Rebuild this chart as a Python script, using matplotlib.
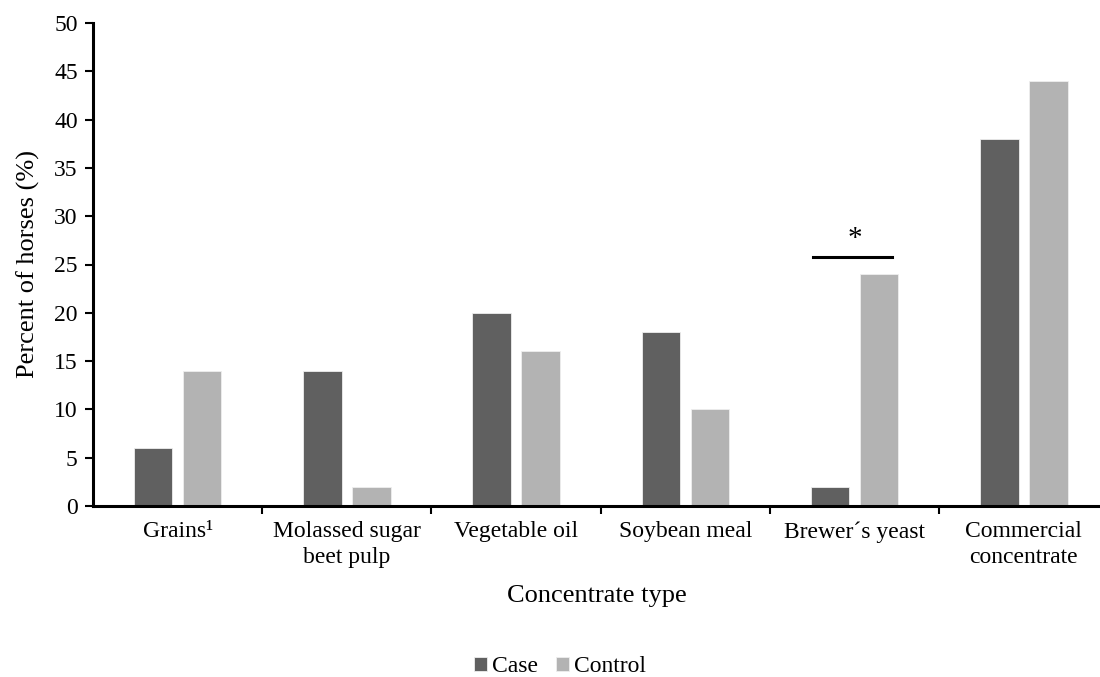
import matplotlib
matplotlib.use("Agg")
import matplotlib.pyplot as plt
import numpy as np

categories = ["Grains\u00b9", "Molassed sugar\nbeet pulp", "Vegetable oil",
              "Soybean meal", "Brewer\u00b4s yeast", "Commercial\nconcentrate"]
case_vals = [6, 14, 20, 18, 2, 38]
control_vals = [14, 2, 16, 10, 24, 44]
series_names = ["Case", "Control"]
yticks = list(range(0, 51, 5))

plt.rcParams['font.family'] = ['Liberation Serif', 'DejaVu Serif']
fs = 17
fs_lab = 19

W, H = 1100, 677
fig = plt.figure(figsize=(W/100, H/100), dpi=100)
x0, y_top, y_bot = 93, 23, 506
ax = fig.add_axes([x0/W, 1-y_bot/H, 1-x0/W, (y_bot-y_top)/H])

x = np.arange(len(categories))
w = 0.228
off = 0.145
ax.bar(x - off, case_vals, w, color="#606060", edgecolor="#eeeeee", linewidth=0.6, label=series_names[0], zorder=2)
ax.bar(x + off, control_vals, w, color="#b3b3b3", edgecolor="#eeeeee", linewidth=0.6, label=series_names[1], zorder=2)

ax.set_xlim(-0.5, 5.45)
ax.set_ylim(0, 50)
ax.set_yticks(yticks)
ax.set_yticklabels([str(v) for v in yticks], fontsize=fs)
ax.set_xticks(np.arange(0.5, 5.0, 1.0))
ax.set_xticklabels([])
ax.set_xticks(x, minor=True)
ax.set_xticklabels(categories, minor=True, fontsize=fs, linespacing=1.28)
ax.tick_params(axis='x', which='minor', length=0, pad=11)
ax.tick_params(axis='x', which='major', length=6, width=1.5, direction='out')
ax.tick_params(axis='y', length=6, width=1.5, direction='out', pad=5)

for s in ['top', 'right']:
    ax.spines[s].set_visible(False)
for s in ['left', 'bottom']:
    ax.spines[s].set_linewidth(2.2)
    ax.spines[s].set_color('black')

ax.set_ylabel("Percent of horses (%)", fontsize=fs_lab)
ax.yaxis.set_label_coords((40 - x0) / (W - x0), 0.5)
ax.set_xlabel("Concentrate type", fontsize=fs_lab)
ax.xaxis.set_label_coords(0.5, -(585 - y_bot) / (y_bot - y_top))

# significance marker on Brewer's yeast
bi = 4
ax.plot([bi - 0.246, bi + 0.221], [25.8, 25.8], color='black', lw=2.2, clip_on=False)
ax.text(bi, 27.6, "*", ha='center', va='center', fontsize=21)

fig.legend(loc='center', bbox_to_anchor=(560/W, 1-667/H), ncol=2, frameon=False,
           fontsize=fs, handlelength=0.55, handleheight=0.55, handletextpad=0.2,
           columnspacing=0.8, borderaxespad=0, borderpad=0)

fig.savefig("out.png", dpi=100)
